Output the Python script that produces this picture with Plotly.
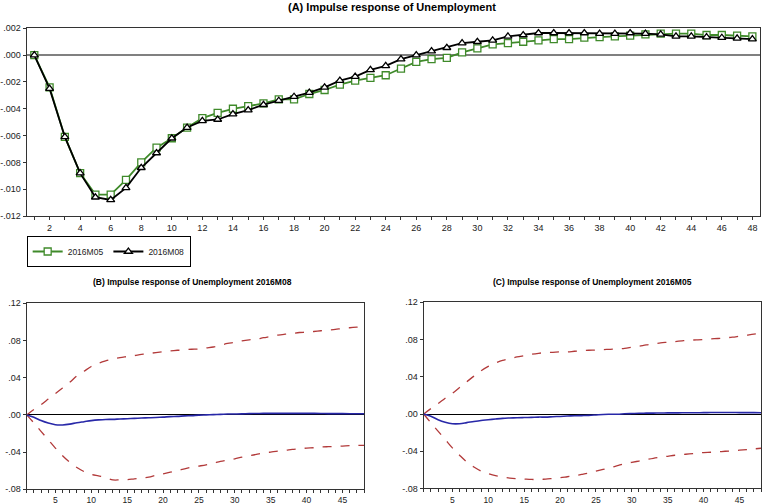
import plotly.graph_objects as go

# horizon (months)
steps = list(range(1, 49))

# (A) point responses
resp_m05 = [0.0, -0.0024, -0.0061, -0.0088, -0.0104, -0.0104, -0.0093, -0.0080,
            -0.0069, -0.0062, -0.0054, -0.0047, -0.0043, -0.0040, -0.0038, -0.0036,
            -0.0033, -0.0033, -0.0029, -0.0026, -0.0022, -0.0019, -0.0017, -0.0015,
            -0.0010, -0.0005, -0.0003, -0.0002, 0.0002, 0.0005, 0.0008, 0.0009,
            0.0010, 0.0011, 0.0012, 0.0012, 0.0013, 0.00135, 0.0014, 0.00145,
            0.00155, 0.0016, 0.0016, 0.0016, 0.0015, 0.0015, 0.00145, 0.0014]
resp_m08 = [0.0, -0.0025, -0.0061, -0.0088, -0.0106, -0.0108, -0.0099, -0.0084,
            -0.0073, -0.0062, -0.0054, -0.0049, -0.0048, -0.0044, -0.0041, -0.0037,
            -0.0034, -0.0031, -0.0028, -0.0024, -0.0019, -0.0016, -0.0011, -0.0008,
            -0.0003, 0.0000, 0.0003, 0.00055, 0.0009, 0.0010, 0.0011, 0.0014,
            0.0015, 0.00165, 0.00165, 0.00165, 0.00165, 0.0016, 0.0016, 0.00165,
            0.0016, 0.00155, 0.0014, 0.0014, 0.00135, 0.0013, 0.00125, 0.0012]

# (B) 2016M08 confidence bands
upper_m08 = [0.0, 0.0058, 0.011, 0.017, 0.023, 0.029, 0.035, 0.042, 0.047, 0.052,
             0.0555, 0.058, 0.060, 0.0616, 0.0627, 0.0638, 0.065, 0.066, 0.067, 0.068,
             0.0688, 0.0695, 0.0703, 0.0706, 0.0708, 0.072, 0.073, 0.075, 0.0768, 0.078,
             0.0796, 0.0807, 0.0814, 0.083, 0.0843, 0.0858, 0.0868, 0.0876, 0.0886, 0.089,
             0.0897, 0.0905, 0.0912, 0.0919, 0.093, 0.0937, 0.0944, 0.095]
lower_m08 = [0.0, -0.0086, -0.0177, -0.0267, -0.0357, -0.044, -0.051, -0.0566, -0.061,
             -0.0638, -0.0656, -0.0674, -0.0699, -0.0699, -0.0697, -0.0688, -0.068, -0.067,
             -0.065, -0.0634, -0.0616, -0.0598, -0.058, -0.0562, -0.055, -0.0537, -0.0519,
             -0.050, -0.0486, -0.0472, -0.0454, -0.044, -0.0425, -0.041, -0.040, -0.0389,
             -0.0382, -0.0371, -0.0364, -0.0357, -0.0353, -0.0346, -0.0342, -0.0339,
             -0.0335, -0.0331, -0.0328, -0.0328]

# (C) 2016M05 confidence bands
upper_m05 = [0.0, 0.0058, 0.0112, 0.017, 0.0223, 0.0285, 0.0346, 0.0407, 0.0465, 0.0512,
             0.0548, 0.0577, 0.0595, 0.0613, 0.0627, 0.0641, 0.0652, 0.066, 0.0663, 0.0667,
             0.0667, 0.0674, 0.068, 0.0685, 0.0687, 0.0692, 0.0695, 0.0699, 0.0706, 0.0717,
             0.0728, 0.0742, 0.0753, 0.0764, 0.0771, 0.0778, 0.0786, 0.0793, 0.0796, 0.080,
             0.0807, 0.0811, 0.0818, 0.0825, 0.0836, 0.0847, 0.0858, 0.0865]
lower_m05 = [0.0, -0.0094, -0.0184, -0.0274, -0.0364, -0.0443, -0.0515, -0.057, -0.0613,
             -0.0641, -0.0663, -0.0677, -0.0688, -0.0695, -0.0699, -0.0703, -0.0703, -0.0699,
             -0.0692, -0.0685, -0.0674, -0.0663, -0.0649, -0.0634, -0.0614, -0.0595, -0.0577,
             -0.0555, -0.0533, -0.0519, -0.0505, -0.049, -0.0476, -0.0465, -0.0454, -0.0443,
             -0.0436, -0.0429, -0.0422, -0.0414, -0.0411, -0.0407, -0.040, -0.0396, -0.0389,
             -0.0382, -0.0375, -0.0368]

# tick labels
top_yvals = [0.002, 0.0, -0.002, -0.004, -0.006, -0.008, -0.010, -0.012]
top_ytext = [".002", ".000", "-.002", "-.004", "-.006", "-.008", "-.010", "-.012"]
bot_yvals = [0.12, 0.08, 0.04, 0.0, -0.04, -0.08]
bot_ytext = [".12", ".08", ".04", ".00", "-.04", "-.08"]
top_xtext = [str(s) if s % 2 == 0 else "" for s in steps]
bot_xtext = [str(s) if s % 5 == 0 else "" for s in steps]

GREEN = "#3f8a2a"
RED = "#b23a3a"
BLUE = "#2828a8"
FRAME = "#333333"
FONT = "Liberation Sans, Arial, sans-serif"

fig = go.Figure()

# (A)
fig.add_trace(go.Scatter(
    x=steps, y=resp_m05, name="2016M05", mode="lines+markers",
    line=dict(color=GREEN, width=1.8),
    marker=dict(symbol="square", size=7, color="white", line=dict(color=GREEN, width=1.3)),
    xaxis="x", yaxis="y"))
fig.add_trace(go.Scatter(
    x=steps, y=resp_m08, name="2016M08", mode="lines+markers",
    line=dict(color="black", width=1.8),
    marker=dict(symbol="triangle-up", size=7, color="white", line=dict(color="black", width=1.3)),
    xaxis="x", yaxis="y"))

# (B) and (C)
def add_panel(resp, upper, lower, xa, ya):
    fig.add_trace(go.Scatter(x=steps, y=upper, mode="lines", showlegend=False,
                             line=dict(color=RED, width=1.3, dash="dash", shape="spline"),
                             xaxis=xa, yaxis=ya))
    fig.add_trace(go.Scatter(x=steps, y=lower, mode="lines", showlegend=False,
                             line=dict(color=RED, width=1.3, dash="dash", shape="spline"),
                             xaxis=xa, yaxis=ya))
    fig.add_trace(go.Scatter(x=steps, y=resp, mode="lines", showlegend=False,
                             line=dict(color=BLUE, width=1.6, shape="spline"),
                             xaxis=xa, yaxis=ya))

add_panel(resp_m08, upper_m08, lower_m08, "x2", "y2")
add_panel(resp_m05, upper_m05, lower_m05, "x3", "y3")

axis_common = dict(showline=True, linecolor=FRAME, linewidth=1, mirror=True,
                   ticks="outside", ticklen=3, tickcolor=FRAME, showgrid=False,
                   automargin=False,
                   tickfont=dict(size=9, color="#222222", family=FONT))
bot_xfont = dict(size=8.5, color="#222222", family=FONT)

title_common = dict(xref="paper", yref="paper", showarrow=False,
                    xanchor="center", yanchor="middle")

fig.update_layout(
    width=762, height=504,
    margin=dict(l=0, r=0, t=0, b=0, autoexpand=False),
    plot_bgcolor="white", paper_bgcolor="white",
    font=dict(family=FONT),
    xaxis=dict(domain=[0.035, 0.9974], range=[0.5, 48.5], tickvals=steps,
               ticktext=top_xtext, anchor="y", **axis_common),
    yaxis=dict(domain=[0.5714, 0.9438], range=[-0.012, 0.002], tickvals=top_yvals,
               ticktext=top_ytext, anchor="x", zeroline=True, zerolinecolor="#808080",
               zerolinewidth=2, **axis_common),
    xaxis2=dict(domain=[0.035, 0.4777], range=[1, 48], tickvals=steps,
                ticktext=bot_xtext, anchor="y2", **axis_common),
    yaxis2=dict(domain=[0.0292, 0.3982], range=[-0.08, 0.12], tickvals=bot_yvals,
                ticktext=bot_ytext, anchor="x2", zeroline=True, zerolinecolor="black",
                zerolinewidth=1, **axis_common),
    xaxis3=dict(domain=[0.556, 0.9987], range=[1, 48], tickvals=steps,
                ticktext=bot_xtext, anchor="y3", **axis_common),
    yaxis3=dict(domain=[0.0308, 0.4002], range=[-0.08, 0.12], tickvals=bot_yvals,
                ticktext=bot_ytext, anchor="x3", zeroline=True, zerolinecolor="black",
                zerolinewidth=1, **axis_common),
    legend=dict(orientation="h", x=0.035, y=1 - 236 / 504, xanchor="left", yanchor="top",
                bordercolor="black", borderwidth=1, bgcolor="white",
                font=dict(size=8.5, color="#222222"), itemwidth=30,
                tracegroupgap=0),
    showlegend=True,
    annotations=[
        dict(text="<b>(A) Impulse response of Unemployment</b>", x=392 / 762, y=1 - 7 / 504,
             font=dict(size=11, color="black"), **title_common),
        dict(text="<b>(B) Impulse response of Unemployment 2016M08</b>", x=192 / 762,
             y=1 - 282 / 504, font=dict(size=8.5, color="black"), **title_common),
        dict(text="<b>(C) Impulse response of Unemployment 2016M05</b>", x=592 / 762,
             y=1 - 282 / 504, font=dict(size=8.5, color="black"), **title_common),
    ],
)
fig.update_xaxes(tickfont=bot_xfont, selector=dict(anchor="y2"))
fig.update_xaxes(tickfont=bot_xfont, selector=dict(anchor="y3"))

# page has a default 8px body margin; drop it so the figure sits at the corner
fig.write_html("out.html", config={"displayModeBar": False},
               post_script="document.body.style.margin='0';")
